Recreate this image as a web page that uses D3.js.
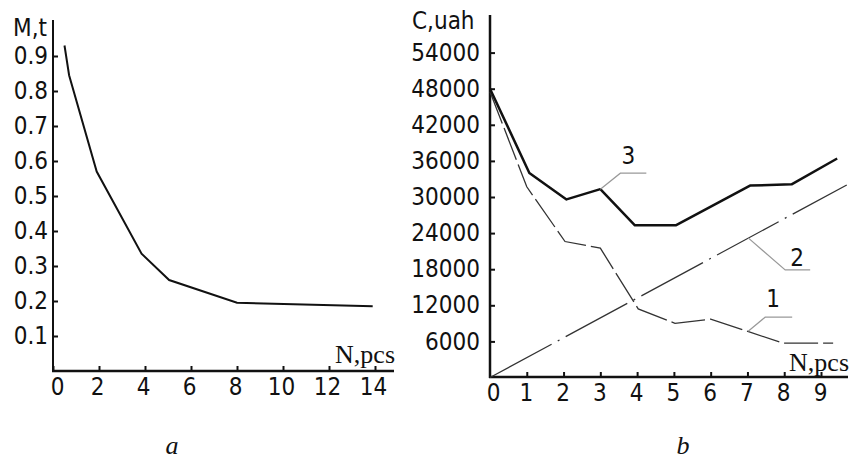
<!DOCTYPE html>
<html>
<head>
<meta charset="utf-8">
<script src="https://cdn.jsdelivr.net/npm/d3@7.9.0/dist/d3.min.js"></script>
<style>
  body { margin: 0; background: #fff; }
  svg text { fill: #111; }
  .sans { font-family: "DejaVu Sans Condensed", "DejaVu Sans", sans-serif; font-stretch: condensed; font-size: 24px; }
  .serif { font-family: "Liberation Serif", serif; font-size: 26px; }
</style>
</head>
<body>
<svg id="chart" width="850" height="459"></svg>
<script>
// panel a: mass vs number of pieces
const massN = [0.5, 0.7, 1.9, 3.85, 5.05, 8, 13.9];
const massM = [0.93, 0.845, 0.57, 0.335, 0.26, 0.195, 0.185];
const aXTicks = [0, 2, 4, 6, 8, 10, 12, 14];
const aYTicks = [0.1, 0.2, 0.3, 0.4, 0.5, 0.6, 0.7, 0.8, 0.9];

// panel b: costs
const costN1 = [0, 1, 2.04, 3, 4.03, 5.03, 6, 7.97, 9.33];
const cost1 = [47500, 31700, 22600, 21500, 11400, 9000, 9700, 5700, 5700];
const costN2 = [0, 9.7];
const cost2 = [0, 32000];
const costN3 = [0, 1.07, 2.08, 3, 3.94, 5.05, 7.07, 8.2, 9.44];
const cost3 = [48000, 34000, 29600, 31300, 25300, 25300, 31900, 32100, 36400];
const bXTicks = [0, 1, 2, 3, 4, 5, 6, 7, 8, 9];
const bYTicks = [6000, 12000, 18000, 24000, 30000, 36000, 42000, 48000, 54000];

const svg = d3.select('#chart');

function styleTicks(g) {
  g.select('.domain').remove();
  g.selectAll('text').attr('class', 'sans').attr('font-size', null).attr('font-family', null);
}

// ---------- panel a ----------
const xa = d3.scaleLinear().domain([0, 14]).range([53, 375]);
const ya = d3.scaleLinear().domain([0, 1]).range([371, 21]);
const ga = svg.append('g');

ga.append('line').attr('x1', 53).attr('x2', 53).attr('y1', 20).attr('y2', 372)
  .attr('stroke', '#111').attr('stroke-width', 2);
ga.append('line').attr('x1', 52).attr('x2', 394).attr('y1', 371).attr('y2', 371)
  .attr('stroke', '#111').attr('stroke-width', 2.5);

const axA = ga.append('g').attr('transform', 'translate(0,371)')
  .call(d3.axisBottom(xa).tickValues(aXTicks).tickSize(-5).tickPadding(7).tickSizeOuter(0));
styleTicks(axA);
axA.selectAll('text').attr('dx', d => d === 0 ? 4 : -2);
const ayA = ga.append('g').attr('transform', 'translate(53,0)')
  .call(d3.axisLeft(ya).tickValues(aYTicks).tickSize(-5).tickPadding(5).tickSizeOuter(0));
styleTicks(ayA);
ga.selectAll('.tick line').attr('stroke', '#111').attr('stroke-width', 2);

ga.append('path')
  .datum(massN.map((n, i) => [n, massM[i]]))
  .attr('fill', 'none').attr('stroke', '#111').attr('stroke-width', 2)
  .attr('d', d3.line().x(d => xa(d[0])).y(d => ya(d[1])));

ga.append('text').attr('class', 'sans').attr('x', 13).attr('y', 36).text('M,t');
ga.append('text').attr('class', 'serif').attr('x', 395).attr('y', 363)
  .attr('text-anchor', 'end').text('N,pcs');

// ---------- panel b ----------
const xb = d3.scaleLinear().domain([0, 9]).range([490, 821]);
const yb = d3.scaleLinear().domain([0, 60000]).range([377.5, 16.5]);
const gb = svg.append('g');

gb.append('line').attr('x1', 490).attr('x2', 490).attr('y1', 15).attr('y2', 378)
  .attr('stroke', '#111').attr('stroke-width', 2.5);
gb.append('line').attr('x1', 489).attr('x2', 848).attr('y1', 377).attr('y2', 377)
  .attr('stroke', '#111').attr('stroke-width', 2.5);

const axB = gb.append('g').attr('transform', 'translate(0,377)')
  .call(d3.axisBottom(xb).tickValues(bXTicks).tickSize(-5).tickPadding(7).tickSizeOuter(0));
styleTicks(axB);
axB.selectAll('text').attr('dx', d => d === 0 ? 3 : -1);
axB.selectAll('.tick').filter(d => d === 0).select('line').remove();
const ayB = gb.append('g').attr('transform', 'translate(490,0)')
  .call(d3.axisLeft(yb).tickValues(bYTicks).tickFormat(d3.format('d'))
    .tickSize(-5).tickPadding(10).tickSizeOuter(0));
styleTicks(ayB);
gb.selectAll('.tick line').attr('stroke', '#111').attr('stroke-width', 2);

const lineB = d3.line().x(d => xb(d[0])).y(d => yb(d[1]));

gb.append('path')
  .datum(costN2.map((n, i) => [n, cost2[i]]))
  .attr('fill', 'none').attr('stroke', '#333').attr('stroke-width', 1.3)
  .attr('stroke-dasharray', '70,7,2,7').attr('d', lineB);

gb.append('path')
  .datum(costN1.map((n, i) => [n, cost1[i]]))
  .attr('fill', 'none').attr('stroke', '#333').attr('stroke-width', 1.3)
  .attr('stroke-dasharray', '34,5').attr('d', lineB);

gb.append('path')
  .datum(costN3.map((n, i) => [n, cost3[i]]))
  .attr('fill', 'none').attr('stroke', '#111').attr('stroke-width', 2.5)
  .attr('stroke-linejoin', 'round').attr('d', lineB);

// leader lines and curve numbers
const leaders = [
  { label: '3', n: 3, c: 31300, dx: 20, dy: -16, len: 26, tx: 8, ty: -9 },
  { label: '2', n: 7.02, c: 23200, dx: 37, dy: 32, len: 25, tx: 12, ty: -4 },
  { label: '1', n: 7.02, c: 7700, dx: 17, dy: -14, len: 27, tx: 8, ty: -10 }
];
leaders.forEach(l => {
  const x0 = xb(l.n), y0 = yb(l.c);
  gb.append('path')
    .attr('d', `M${x0},${y0}L${x0 + l.dx},${y0 + l.dy}h${l.len}`)
    .attr('fill', 'none').attr('stroke', '#999').attr('stroke-width', 1.2);
  gb.append('text').attr('class', 'sans')
    .attr('x', x0 + l.dx + l.tx).attr('y', y0 + l.dy + l.ty)
    .attr('text-anchor', 'middle').text(l.label);
});

gb.append('text').attr('class', 'sans').attr('x', 412).attr('y', 29).text('C,uah');
gb.append('text').attr('class', 'serif').attr('x', 849).attr('y', 371)
  .attr('text-anchor', 'end').text('N,pcs');

// panel captions
svg.append('text').attr('x', 172).attr('y', 454).attr('text-anchor', 'middle')
  .style('font-family', '"Liberation Serif", serif').style('font-style', 'italic')
  .style('font-size', '26px').text('a');
svg.append('text').attr('x', 683).attr('y', 454).attr('text-anchor', 'middle')
  .style('font-family', '"Liberation Serif", serif').style('font-style', 'italic')
  .style('font-size', '26px').text('b');
</script>
</body>
</html>
